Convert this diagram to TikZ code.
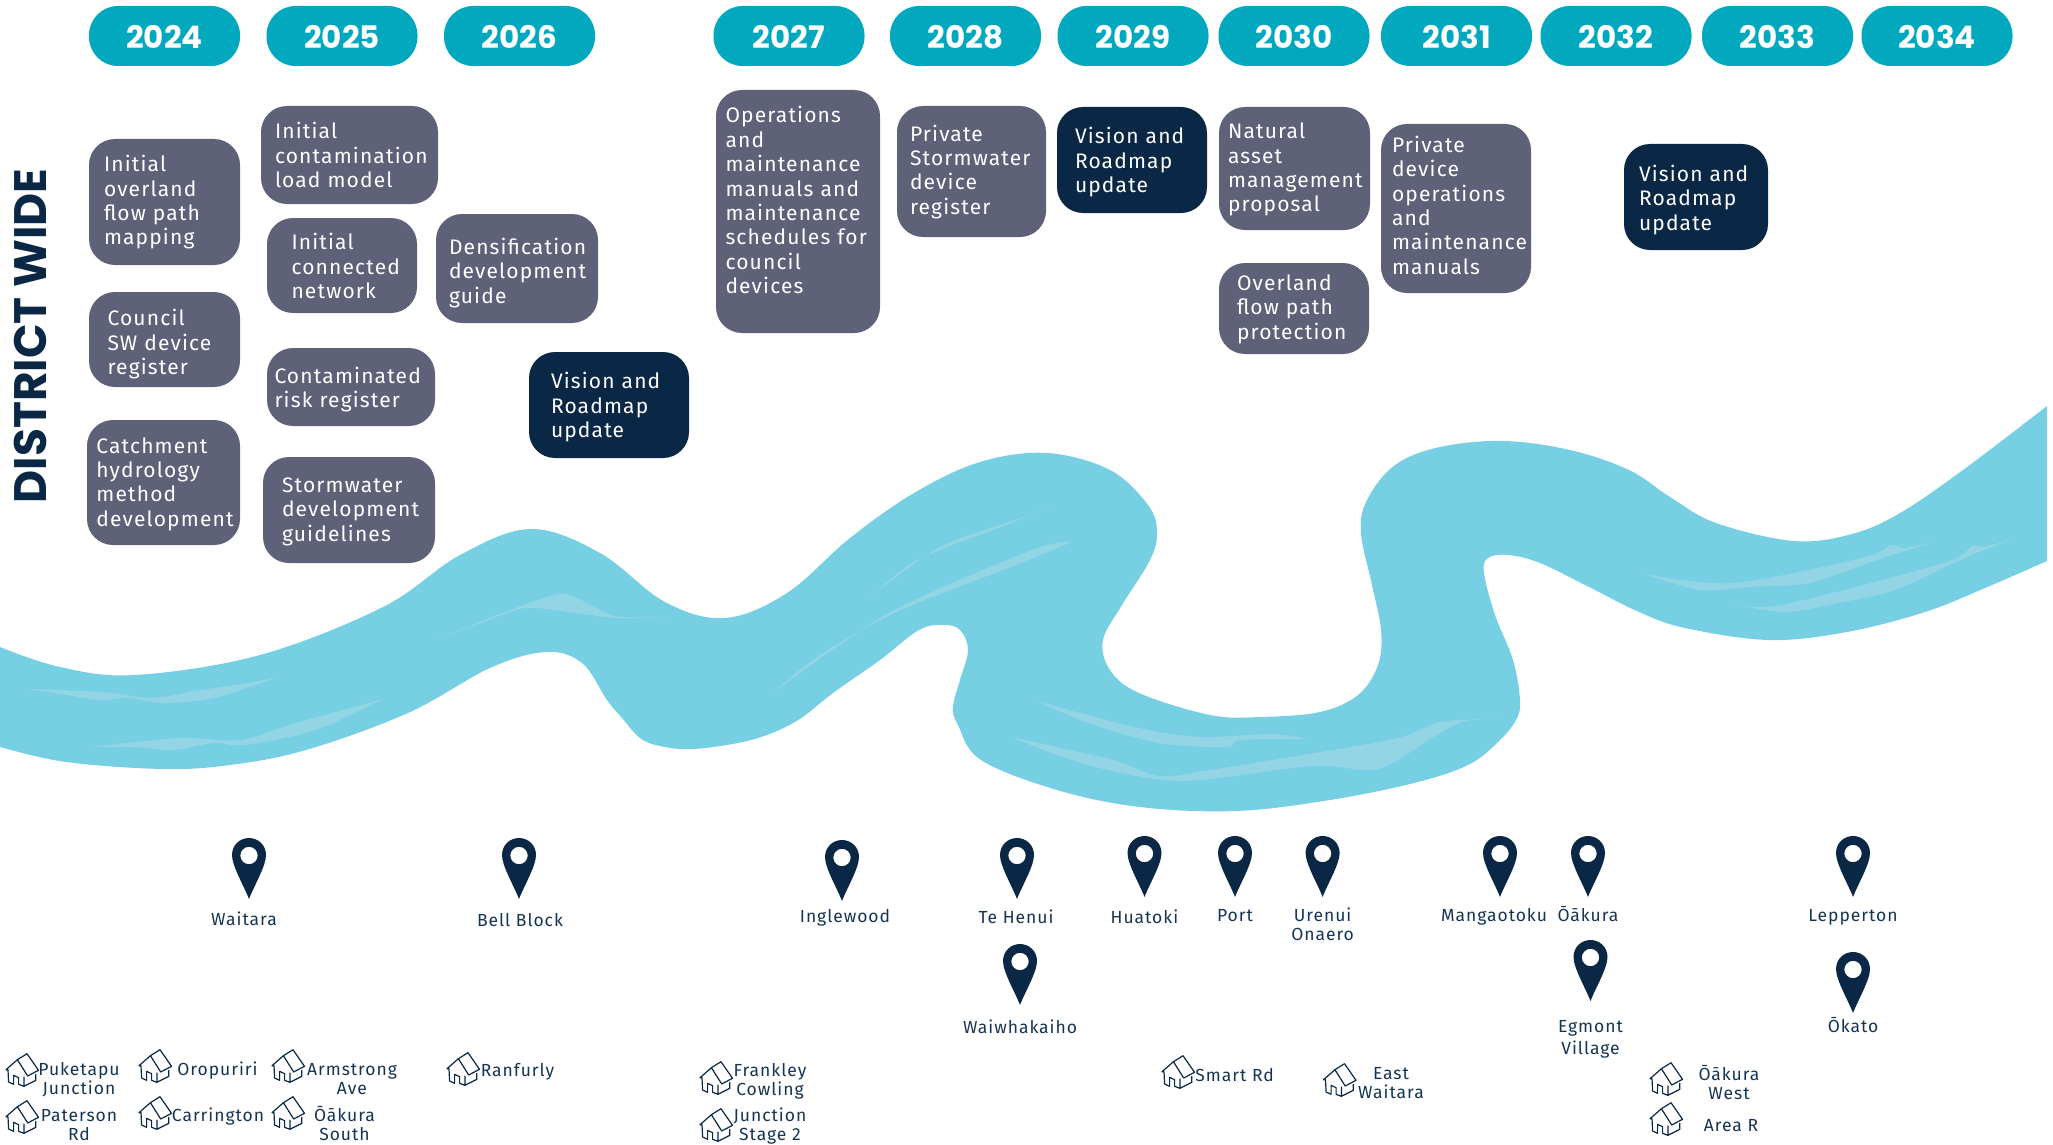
\documentclass[tikz,border=0pt]{standalone}
\usepackage{fontspec}
\newfontfamily\bodyf[LetterSpace=5.5]{Fira Sans}
\newfontfamily\labelf[LetterSpace=5.5]{Fira Sans}
\newfontfamily\yearf{Poppins}
\newfontfamily\headf{Poppins}
\definecolor{riverc}{HTML}{76CFE3}
\definecolor{ripplec}{HTML}{93D5E4}
\definecolor{pillc}{HTML}{02A9BE}
\definecolor{greyc}{HTML}{5E6178}
\definecolor{navyc}{HTML}{0A2745}
\definecolor{labelc}{HTML}{153454}
\tikzset{
  x=1pt,y=-1pt,
  river/.style={fill=riverc},
  ripple/.style={fill=ripplec},
  pill/.style={fill=pillc,rounded corners=29pt,minimum width=151pt,minimum height=60pt,inner sep=0pt,text=white,font=\yearf\bfseries\fontsize{31}{32}\selectfont},
  greybox/.style={fill=greyc,text=white},
  navybox/.style={fill=navyc,text=white},
  place/.style={text=labelc,align=center,inner sep=0pt,font=\labelf\fontsize{17.5}{19}\selectfont},
  pin/.pic={
    \fill[navyc,even odd rule] (0,0) .. controls (-5,-13) and (-17,-33) .. (-17,-44)
      .. controls (-17,-54) and (-9,-61) .. (0,-61)
      .. controls (9,-61) and (17,-54) .. (17,-44)
      .. controls (17,-33) and (5,-13) .. (0,0) -- cycle
      (0,-43.5) circle[radius=8.7];
  },
  house/.pic={
    \draw[navyc,line width=1.2pt,line join=round,line cap=round]
      (5,-16.3) -- (16.5,0.3) -- (5.7,6) -- (-4.6,-10.3) -- (5,-16.3)
      (-4.6,-10.3) -- (-16,-0.3) -- (-14,-0.3) -- (-13.4,12) -- (-8.4,14.3) -- (-8.4,5.3)
      -- (-3.4,7.7) -- (-3.4,14.3) -- (1.9,16.3) -- (1.9,7)
      (1.9,16.3) -- (13.8,10.3) -- (13.8,4.3);
  }
}
\newcommand{\workbox}[9]{%
  \pgfmathsetmacro{\bw}{#4-#2}\pgfmathsetmacro{\bh}{#5-#3}%
  \pgfmathsetmacro{\bcx}{(#4+#2)/2}\pgfmathsetmacro{\bcy}{(#5+#3)/2}%
  \node[#7,rounded corners=26pt,inner sep=0pt,minimum height=\bh pt,text width=\bw pt,align=left,
    font=\bodyf\fontsize{21}{24.4}\selectfont] (#1) at (\bcx,\bcy)
    {\hspace*{#6pt}\raisebox{\dimexpr(\depth-\height)/2-(#9pt)\relax}[0pt][0pt]{\begin{tabular}[c]{@{}l@{}}#8\end{tabular}}};%
}
\newcommand{\pinat}[3]{\pic (#1) at (#2,#3) {pin};}
\newcommand{\houseat}[3]{\pic (#1) at (#2,#3) {house};}
\newcommand{\yr}[1]{\raisebox{-1.3pt}[\height][\depth]{#1}}
\begin{document}
\begin{tikzpicture}
\useasboundingbox (0,0) rectangle (2053,1145);
% river
\fill[river] plot[smooth,tension=0.6] coordinates {(0,647) (60,667) (135,675) (260,655) (383,607) (460,555) (531,529) (600,553) (665,602) (725,618) (787,593) (850,538) (914,493) (980,462) (1047,453) (1110,470) (1148,505) (1157,532) (1150,560) (1122,605) (1103,640) (1110,670) (1139,693) (1210,715) (1261,717) (1320,712) (1358,695) (1378,665) (1381,630) (1372,585) (1361,533) (1367,500) (1395,465) (1440,447) (1503,441) (1570,450) (1629,470) (1670,497) (1716,523) (1794,541) (1852,534) (1900,513) (1963,470) (2047,406)}
  -- plot[smooth,tension=0.6] coordinates {(2047,561) (1985,588) (1925,612) (1847,632) (1769,640) (1685,628) (1639,612) (1589,587) (1540,563) (1508,555) (1488,558) (1484,573) (1495,615) (1513,660) (1520,700) (1516,720) (1498,742) (1468,765) (1414,783) (1330,800) (1236,811) (1140,807) (1057,790) (981,760) (958,725) (953,707) (960,680) (968,650) (960,630) (944,625) (919,630) (880,660) (833,693) (795,722) (751,740) (694,749) (660,746) (640,738) (622,718) (607,700) (582,663) (546,652) (490,668) (408,713) (306,750) (230,765) (163,769) (66,762) (0,747)}
  -- cycle;
% ripples
\fill[ripple] plot[smooth,tension=0.5] coordinates {(26,689) (102,692) (153,698) (194,691) (235,685) (276,678)} -- plot[smooth,tension=0.5] coordinates {(276,678) (214,698) (163,703) (128,698) (97,700) (56,693) (26,689)} -- cycle;
\fill[ripple] plot[smooth,tension=0.5] coordinates {(92,747) (179,738) (240,740) (296,723) (383,699)} -- plot[smooth,tension=0.5] coordinates {(383,699) (316,730) (245,745) (214,743) (173,750) (133,747) (92,747)} -- cycle;
\fill[ripple] plot[smooth,tension=0.4] coordinates {(436,640) (510,610) (564,594) (615,616) (671,617)} -- plot[smooth,tension=0.4] coordinates {(671,617) (615,618) (536,608) (510,612) (436,640)} -- cycle;
\fill[ripple] plot[smooth,tension=0.5] coordinates {(868,599) (940,547) (1030,515) (1057,504)} -- plot[smooth,tension=0.5] coordinates {(1057,504) (1006,525) (945,548) (909,565) (868,599)} -- cycle;
\fill[ripple] plot[smooth,tension=0.5] coordinates {(774,692) (889,613) (1032,550) (1072,542)} -- plot[smooth,tension=0.5] coordinates {(1072,542) (1016,565) (894,613) (817,657) (774,692)} -- cycle;
\fill[ripple] plot[smooth,tension=0.5] coordinates {(1037,701) (1134,727) (1200,737) (1271,734) (1307,739)} -- plot[smooth,tension=0.5] coordinates {(1307,739) (1241,740) (1226,747) (1159,743) (1088,723) (1037,701)} -- cycle;
\fill[ripple] plot[smooth,tension=0.5] coordinates {(1011,737) (1113,760) (1159,776) (1210,770) (1389,740) (1440,722) (1500,719)} -- plot[smooth,tension=0.5] coordinates {(1500,719) (1465,721) (1440,733) (1389,765) (1363,770) (1312,766) (1185,781) (1108,770) (1057,755) (1011,737)} -- cycle;
\fill[ripple] plot[smooth,tension=0.5] coordinates {(1644,574) (1733,583) (1862,558) (1891,545) (1903,548) (1931,543)} -- plot[smooth,tension=0.5] coordinates {(1931,543) (1877,560) (1809,583) (1747,587) (1700,590) (1644,574)} -- cycle;
\fill[ripple] plot[smooth,tension=0.5] coordinates {(1728,603) (1781,605) (1943,563) (1972,546) (1982,547) (2011,540)} -- plot[smooth,tension=0.5] coordinates {(2011,540) (1967,557) (1895,590) (1838,603) (1785,612) (1728,603)} -- cycle;
% year pills
\node[pill] (y2024) at (164.5,36) {\yr{2024}};
\node[pill] (y2025) at (342,36) {\yr{2025}};
\node[pill] (y2026) at (519.5,36) {\yr{2026}};
\node[pill] (y2027) at (789,36) {\yr{2027}};
\node[pill] (y2028) at (965.5,36) {\yr{2028}};
\node[pill] (y2029) at (1133,36) {\yr{2029}};
\node[pill] (y2030) at (1294,36) {\yr{2030}};
\node[pill] (y2031) at (1456.5,36) {\yr{2031}};
\node[pill] (y2032) at (1616,36) {\yr{2032}};
\node[pill] (y2033) at (1777.5,36) {\yr{2033}};
\node[pill] (y2034) at (1937,36) {\yr{2034}};
% heading
\node[rotate=90,text=navyc,inner sep=0pt,font=\headf\bfseries\fontsize{45.5}{50}\selectfont] (district) at (30,336) {DISTRICT WIDE};
% work boxes
\workbox{b1}{89}{139}{240}{265}{15}{greybox}{Initial\\overland\\flow path\\mapping}{1.5}
\workbox{b2}{261}{106}{438}{204}{14}{greybox}{Initial\\contamination\\load model}{3.5}
\workbox{b3}{267}{218}{417}{313}{24.5}{greybox}{Initial\\connected\\network}{4}
\workbox{b4}{436}{214}{598}{323}{13}{greybox}{Densification\\development\\guide}{5.6}
\workbox{b5}{89}{292}{240}{387}{18.6}{greybox}{Council\\SW device\\register}{6}
\workbox{b6}{267}{348}{435}{426}{7.5}{greybox}{Contaminated\\risk register}{3.4}
\workbox{b7}{529}{352}{689}{458}{22}{navybox}{Vision and\\Roadmap\\update}{3.5}
\workbox{b8}{87}{420}{240}{545}{9.4}{greybox}{Catchment\\hydrology\\method\\development}{2.3}
\workbox{b9}{263}{457}{435}{563}{19}{greybox}{Stormwater\\development\\guidelines}{2}
\workbox{b10}{716}{90}{880}{333}{9.5}{greybox}{Operations\\and\\maintenance\\manuals and\\maintenance\\schedules for\\council\\devices}{-8}
\workbox{b11}{897}{106}{1046}{237}{13}{greybox}{Private\\Stormwater\\device\\register}{1.3}
\workbox{b12}{1057}{107}{1207}{213}{18}{navybox}{Vision and\\Roadmap\\update}{3.2}
\workbox{b13}{1219}{107}{1370}{230}{9}{greybox}{Natural\\asset\\management\\proposal}{2}
\workbox{b14}{1219}{263}{1369}{354}{18}{greybox}{Overland\\flow path\\protection}{1.4}
\workbox{b15}{1381}{124}{1531}{293}{11}{greybox}{Private\\device\\operations\\and\\maintenance\\manuals}{0}
\workbox{b16}{1624}{144}{1768}{250}{15}{navybox}{Vision and\\Roadmap\\update}{4}
% pins and their places
\pinat{p1}{249}{899}   \node[place] (t1) at (244,918.3) {Waitara};
\pinat{p2}{519}{899}   \node[place] (t2) at (520,920.3) {Bell Block};
\pinat{p3}{842}{901}   \node[place] (t3) at (845,917.6) {Inglewood};
\pinat{p4}{1017}{899}  \node[place] (t4) at (1016,916.5) {Te Henui};
\pinat{p5}{1144.5}{897} \node[place] (t5) at (1144.5,917) {Huatoki};
\pinat{p6}{1235}{897}  \node[place] (t6) at (1235,916) {Port};
\pinat{p7}{1322.6}{897} \node[place] (t7) at (1322.6,924.5) {Urenui\\Onaero};
\pinat{p8}{1500}{897}  \node[place] (t8) at (1494,916.3) {Mangaotoku};
\pinat{p9}{1588}{897}  \node[place] (t9) at (1588,914) {Ōākura};
\pinat{p10}{1020}{1005} \node[place] (t10) at (1020,1026.3) {Waiwhakaiho};
\pinat{p11}{1590.5}{1001} \node[place,font=\labelf\fontsize{17.5}{22}\selectfont] (t11) at (1590.5,1039.5) {Egmont\\Village};
\pinat{p12}{1853}{897} \node[place] (t12) at (1853,917.3) {Lepperton};
\pinat{p13}{1853}{1013} \node[place] (t13) at (1853,1025) {Ōkato};
% houses and their places
\houseat{h1}{22}{1070}  \node[place] (s1) at (79,1080) {Puketapu\\Junction};
\houseat{h2}{22}{1117}  \node[place] (s2) at (79,1125) {Paterson\\Rd};
\houseat{h3}{155}{1066} \node[place] (s3) at (217.5,1070.6) {Oropuriri};
\houseat{h4}{155}{1113} \node[place] (s4) at (218,1117) {Carrington};
\houseat{h5}{288}{1066} \node[place] (s5) at (352,1079.3) {Armstrong\\Ave};
\houseat{h6}{288}{1113} \node[place] (s6) at (344.5,1123.5) {Ōākura\\South};
\houseat{h7}{463}{1069} \node[place] (s7) at (517.5,1072) {Ranfurly};
\houseat{h8}{716}{1078} \node[place] (s8) at (770,1081) {Frankley\\Cowling};
\houseat{h9}{716}{1125} \node[place] (s9) at (770,1126) {Junction\\Stage 2};
\houseat{h10}{1178}{1072} \node[place] (s10) at (1234.6,1075.5) {Smart Rd};
\houseat{h11}{1339.5}{1080} \node[place] (s11) at (1391,1083.3) {East\\Waitara};
\houseat{h12}{1666}{1079} \node[place] (s12) at (1729,1083) {Ōākura\\West};
\houseat{h13}{1666}{1119} \node[place] (s13) at (1731,1125.6) {Area R};
\end{tikzpicture}
\end{document}
